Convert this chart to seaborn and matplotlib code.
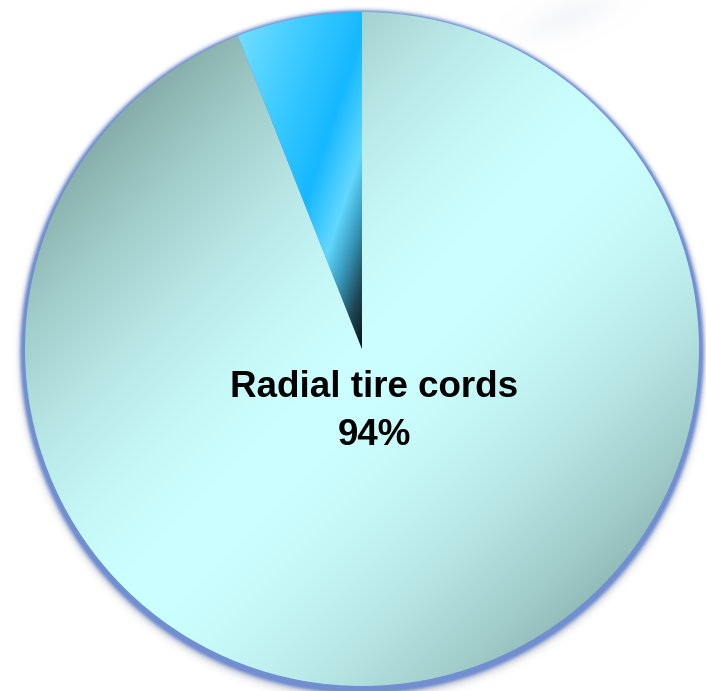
import numpy as np
import matplotlib
matplotlib.use("Agg")
import matplotlib.pyplot as plt
import seaborn as sns
from matplotlib.colors import to_rgb

# Shares of end use
categories = ["Other uses", "Radial tire cords"]
shares = [6, 94]
label_index = 1

sns.set_theme(style="white")
plt.rcParams["font.family"] = ["Liberation Sans", "DejaVu Sans"]

W, H = 706, 691
fig = plt.figure(figsize=(W / 100, H / 100), dpi=100)
ax = fig.add_axes([0, 0, 1, 1])

cx, cy, R = 362, 342, 337   # pixel-based data coordinates, y pointing up

wedges, _ = ax.pie(shares, startangle=90, counterclock=True,
                   center=(cx, cy), radius=R,
                   colors=["none", "none"],
                   wedgeprops=dict(linewidth=0))
for w in wedges:
    w.set_zorder(3)

ax.set_xlim(0, W)
ax.set_ylim(0, H)
ax.set_aspect("auto")
ax.axis("off")


def ramp(q, stops):
    """Piecewise-linear colour ramp, stops = [(pos, colour), ...]."""
    pos = np.array([s[0] for s in stops], float)
    cols = np.array([to_rgb(s[1]) for s in stops])
    out = np.empty(q.shape + (3,))
    for k in range(3):
        out[..., k] = np.interp(q, pos, cols[:, k])
    return out


def layer(color, alpha, z):
    img = np.zeros(alpha.shape + (4,))
    img[..., :3] = to_rgb(color)
    img[..., 3] = np.clip(alpha, 0, 1)
    ax.imshow(img, extent=(0, W, 0, H), origin="lower", zorder=z,
              interpolation="bilinear")


# ---- soft blue rim, drop shadow and faint highlight behind the pie ----
X, Y = np.meshgrid(np.arange(W) + 0.5, np.arange(H) + 0.5)

d_gray = np.hypot(X - cx, Y - (cy - 7)) - R
layer("#70768a", np.where(d_gray > 0, 0.28 * np.exp(-(d_gray / 6.5) ** 2), 0.28), 0.6)

d_rim = np.hypot(X - cx, Y - (cy - 3)) - R
layer("#6b8ad0", np.where(d_rim < 2.0, 0.95,
                          0.95 * np.exp(-((d_rim - 2.0) / 3.4) ** 2)), 0.7)

# highlight smear above the top-right of the pie
u = (X - 570) * np.cos(np.radians(22)) + (Y - (H - 16)) * np.sin(np.radians(22))
v = -(X - 570) * np.sin(np.radians(22)) + (Y - (H - 16)) * np.cos(np.radians(22))
layer("#e4e6f0", 0.35 * np.exp(-(u / 45) ** 2 - (v / 16) ** 2), 0.5)

# ---- gradient fill of the large slice ----
x0, x1, y0, y1 = cx - R - 2, cx + R + 2, cy - R - 2, cy + R + 2
gx, gy = np.meshgrid(np.linspace(x0, x1, 700), np.linspace(y0, y1, 700))
xi, yi = gx, H - gy
p = ((xi - 362) + (yi - 349)) / np.sqrt(2) - 20
t = np.clip(np.abs(p) / 340.0, 0, 1.05) ** 1.8
light = np.array(to_rgb("#ccffff"))
dark = np.array([140, 180, 176]) / 255
big = light + (dark - light) * t[..., None]
im = ax.imshow(np.clip(big, 0, 1), extent=(x0, x1, y0, y1), origin="lower",
               zorder=2, interpolation="bilinear")
im.set_clip_path(wedges[1])

# ---- gradient fill of the small slice ----
bx0, bx1, by0, by1 = cx - 140, cx + 4, cy - 12, cy + R + 4
hx, hy = np.meshgrid(np.linspace(bx0, bx1, 300), np.linspace(by0, by1, 700))
q = 0.95 * hx + 0.32 * (H - hy)
small = ramp(q, [(230, "#78e0ff"), (300, "#3ccaff"), (355, "#16b8ff"),
                 (392, "#62d8ff"), (412, "#3a9cc0"), (435, "#1e4858"),
                 (458, "#060c10")])
im2 = ax.imshow(small, extent=(bx0, bx1, by0, by1), origin="lower",
                zorder=2, interpolation="bilinear")
im2.set_clip_path(wedges[0])

# ---- slice label ----
ax.text(374.5, H - 397, categories[label_index], ha="center", va="baseline",
        fontsize=26.5, fontweight="bold", color="black", zorder=5)
ax.text(374.5, H - 445, f"{shares[label_index]}%", ha="center", va="baseline",
        fontsize=26.5, fontweight="bold", color="black", zorder=5)

fig.savefig("out.png", dpi=100)
